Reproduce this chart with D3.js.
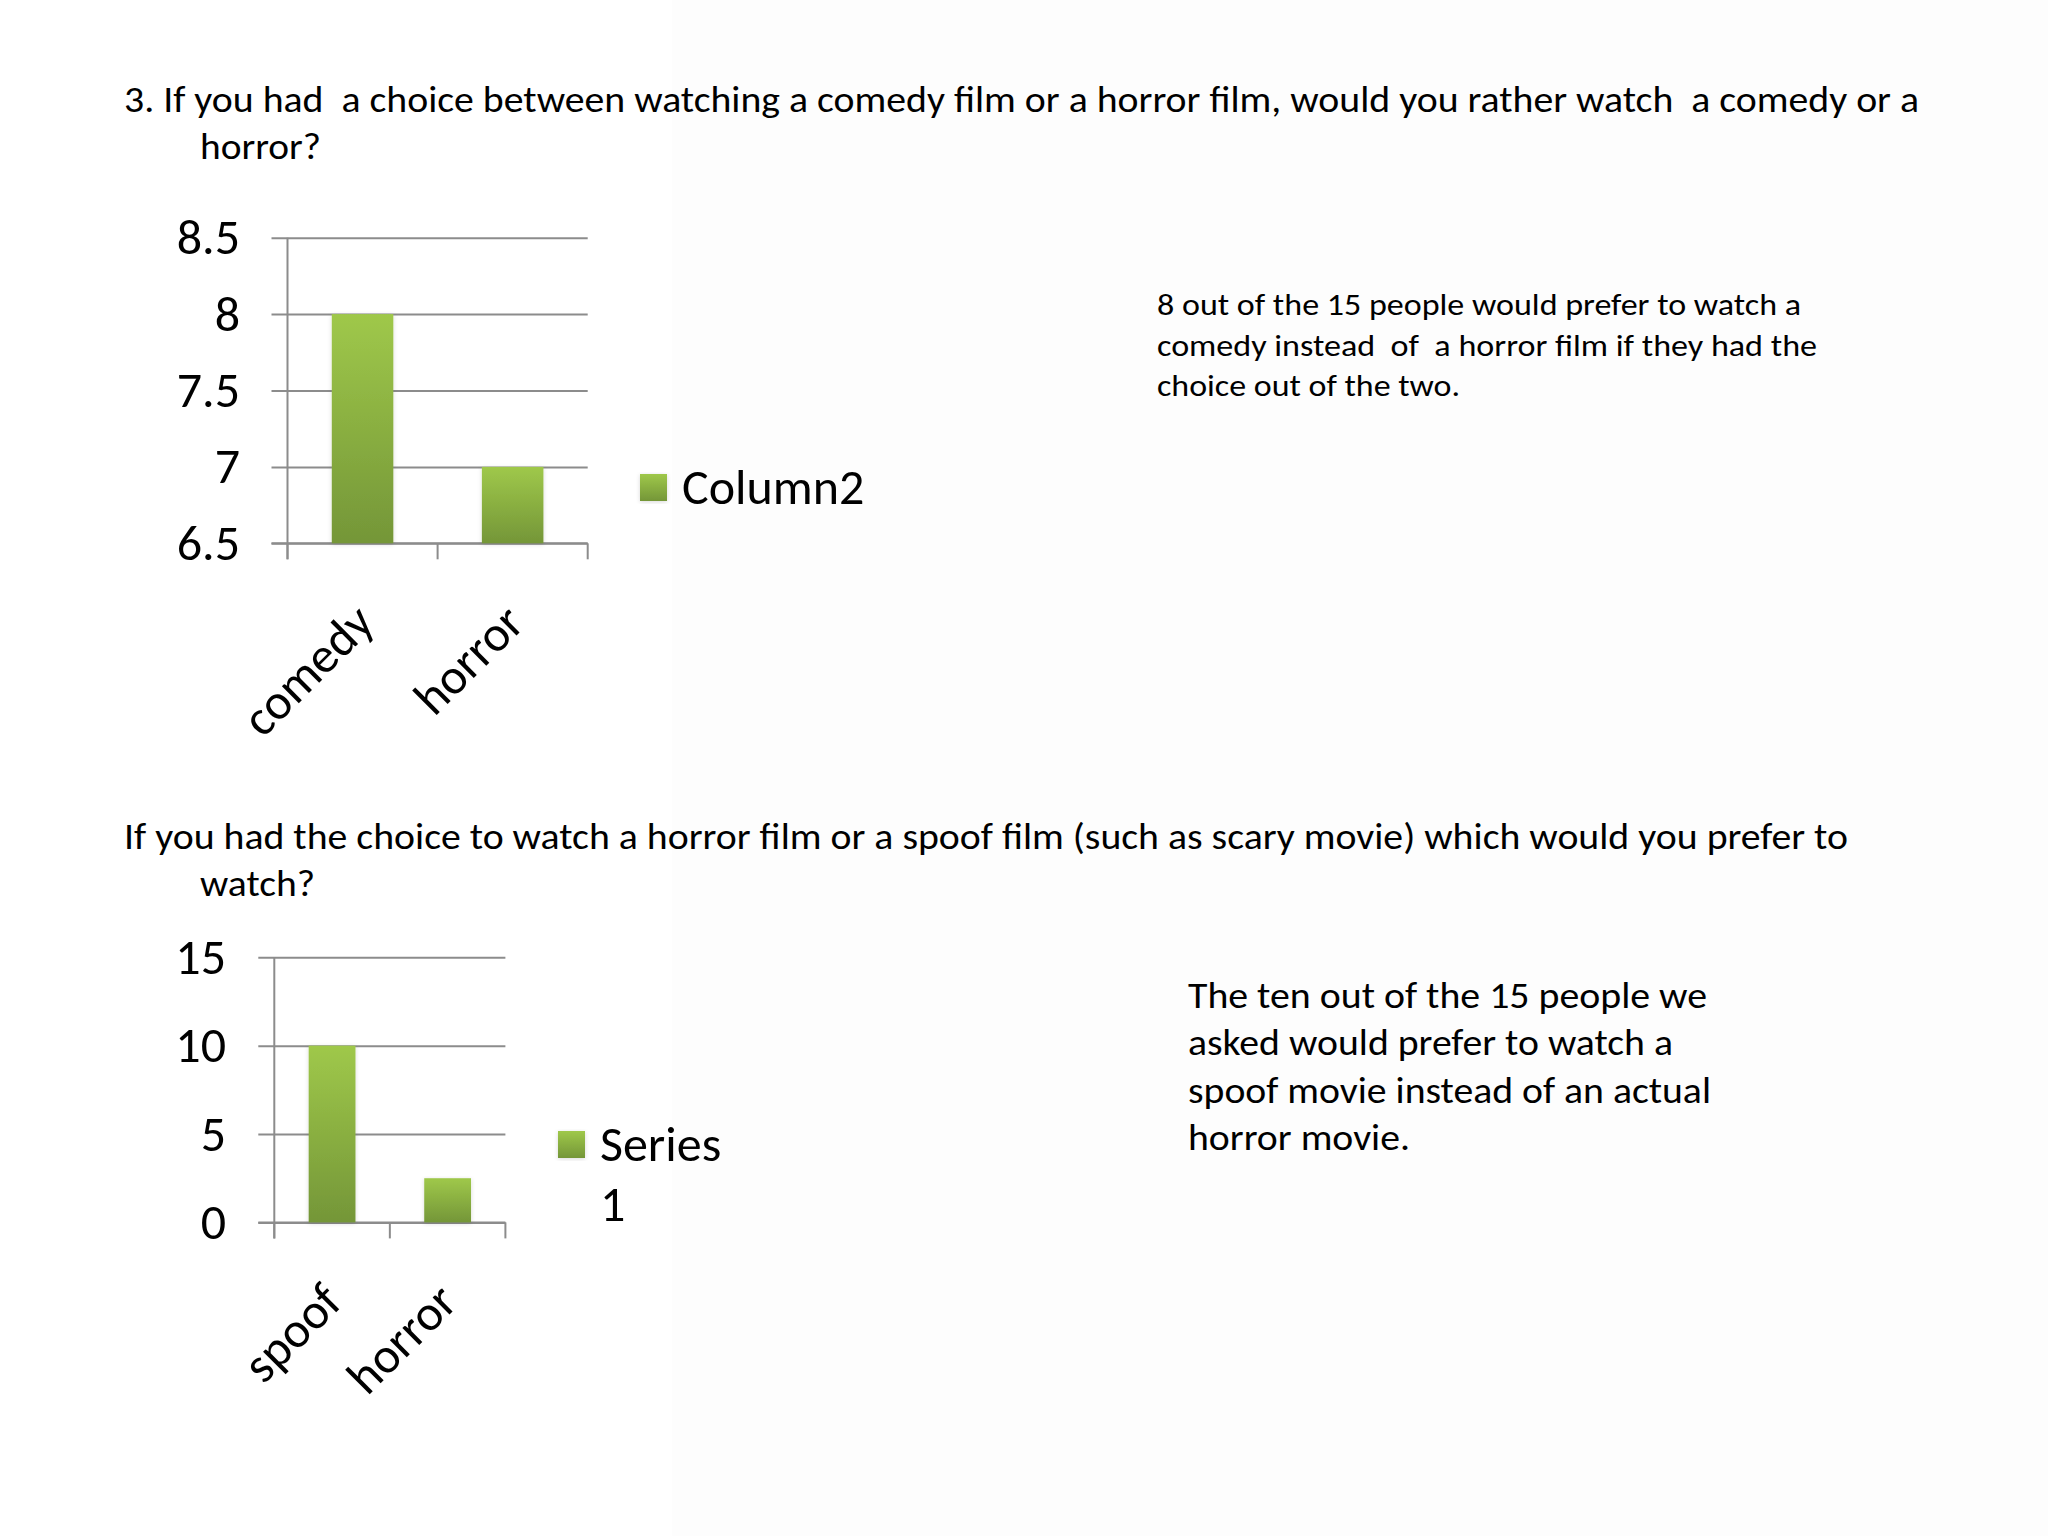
<!DOCTYPE html>
<html>
<head>
<meta charset="utf-8">
<script src="https://cdn.jsdelivr.net/npm/d3@7"></script>
<style>
html,body{margin:0;padding:0;background:#fff;}
svg{display:block;}
text{font-family:Carlito, Calibri, Lato, "Open Sans", sans-serif;fill:#000;}
</style>
</head>
<body>
<script>
// ---- data ----
const chart1Categories = ["comedy", "horror"];
const chart1Values = [8, 7];
const chart1Ticks = [6.5, 7, 7.5, 8, 8.5];
const chart1Series = "Column2";

const chart2Categories = ["spoof", "horror"];
const chart2Values = [10, 2.5];
const chart2Ticks = [0, 5, 10, 15];
const chart2Series = ["Series", "1"];

const title1Lines = [
  "3. If you had  a choice between watching a comedy film or a horror film, would you rather watch  a comedy or a",
  "horror?"
];
const title2Lines = [
  "If you had the choice to watch a horror film or a spoof film (such as scary movie) which would you prefer to",
  "watch?"
];
const note1Lines = [
  "8 out of the 15 people would prefer to watch a",
  "comedy instead  of  a horror film if they had the",
  "choice out of the two."
];
const note2Lines = [
  "The ten out of the 15 people we",
  "asked would prefer to watch a",
  "spoof movie instead of an actual",
  "horror movie."
];

const W = 2048, H = 1536;
const svg = d3.select("body").append("svg").attr("width", W).attr("height", H);

// faint background on right part
svg.append("rect").attr("x", 0).attr("y", 0).attr("width", W).attr("height", H).attr("fill", "#ffffff");
svg.append("rect").attr("x", 672).attr("y", 0).attr("width", W - 672).attr("height", H).attr("fill", "#fdfdfd");

const defs = svg.append("defs");
const grad = defs.append("linearGradient").attr("id", "barGrad").attr("x1", 0).attr("y1", 0).attr("x2", 0).attr("y2", 1);
grad.append("stop").attr("offset", "0%").attr("stop-color", "#9fc84a");
grad.append("stop").attr("offset", "100%").attr("stop-color", "#749638");
const filt = defs.append("filter").attr("id", "shadow").attr("x", "-20%").attr("y", "-5%").attr("width", "140%").attr("height", "115%");
filt.append("feDropShadow").attr("dx", 0).attr("dy", 1).attr("stdDeviation", 2).attr("flood-color", "#000").attr("flood-opacity", 0.15);

// ---- text blocks ----
function textBlock(lines, opts) {
  lines.forEach((t, i) => {
    const el = svg.append("text")
      .attr("x", i === 0 ? opts.x : (opts.x2 !== undefined ? opts.x2 : opts.x))
      .attr("y", opts.y + i * opts.lh)
      .attr("font-size", opts.fs)
      .style("white-space", "pre")
      .attr("xml:space", "preserve")
      .text(t);
    if (opts.widths && opts.widths[i]) {
      el.attr("textLength", opts.widths[i]).attr("lengthAdjust", "spacingAndGlyphs");
    }
  });
}

textBlock(title1Lines, {x: 124, x2: 200, y: 112, lh: 47, fs: 36, widths: [1795, 121]});
textBlock(title2Lines, {x: 124, x2: 200, y: 849, lh: 47, fs: 36, widths: [1724, 115]});
textBlock(note1Lines, {x: 1157, y: 315, lh: 40.5, fs: 31, widths: [644, 660, 303]});
textBlock(note2Lines, {x: 1188, y: 1008, lh: 47.4, fs: 37, widths: [519, 485, 523, 222]});

// ---- chart drawer ----
function drawChart(cfg) {
  const g = svg.append("g");
  const x = d3.scaleBand().domain(cfg.categories).range([cfg.left, cfg.right]).paddingInner(0).paddingOuter(0);
  const y = d3.scaleLinear().domain(cfg.domain).range([cfg.bottom, cfg.top]);

  // gridlines + y ticks
  const yAxis = d3.axisLeft(y).tickValues(cfg.ticks).tickSize(-(cfg.right - cfg.left)).tickPadding(0).tickFormat(d3.format(""));
  const ya = g.append("g").attr("transform", `translate(${cfg.left},0)`).call(yAxis);
  ya.select(".domain").remove();
  ya.selectAll(".tick line").attr("stroke", "#8c8c8c").attr("stroke-width", 2).attr("x1", -16);
  ya.selectAll(".tick text").remove();
  cfg.ticks.forEach(t => {
    g.append("text").attr("x", cfg.labelRight).attr("y", y(t)).attr("dy", "0.33em")
      .attr("text-anchor", "end").attr("font-size", 50).text(d3.format("")(t));
  });

  // y axis line
  g.append("line").attr("x1", cfg.left).attr("x2", cfg.left).attr("y1", cfg.top).attr("y2", cfg.bottom + 16)
    .attr("stroke", "#8c8c8c").attr("stroke-width", 2);

  // x axis ticks
  const xTicks = cfg.categories.map(c => x(c)).concat([cfg.right]);
  xTicks.forEach(px => {
    g.append("line").attr("x1", px).attr("x2", px).attr("y1", cfg.bottom).attr("y2", cfg.bottom + 16)
      .attr("stroke", "#8c8c8c").attr("stroke-width", 2);
  });
  g.append("line").attr("x1", cfg.left - 16).attr("x2", cfg.right).attr("y1", cfg.bottom).attr("y2", cfg.bottom)
    .attr("stroke", "#8c8c8c").attr("stroke-width", 2);

  // bars
  const bw = x.bandwidth() * cfg.barFrac;
  g.selectAll("rect.bar").data(cfg.values).enter().append("rect")
    .attr("class", "bar")
    .attr("x", (d, i) => x(cfg.categories[i]) + (x.bandwidth() - bw) / 2)
    .attr("width", bw)
    .attr("y", d => y(d))
    .attr("height", d => y(cfg.domain[0]) - y(d))
    .attr("fill", "url(#barGrad)")
    .attr("filter", "url(#shadow)");

  // x labels rotated
  cfg.categories.forEach(c => {
    const cx = x(c) + x.bandwidth() / 2 + cfg.labelDx;
    const cy = cfg.bottom + 82;
    g.append("text").attr("transform", `translate(${cx},${cy}) rotate(-45)`)
      .attr("text-anchor", "end").attr("font-size", 50).text(c);
  });

  // legend
  g.append("rect").attr("x", cfg.legX).attr("y", cfg.legY).attr("width", 27).attr("height", 27)
    .attr("fill", "url(#barGrad)").attr("filter", "url(#shadow)");
  cfg.legendLines.forEach((t, i) => {
    g.append("text").attr("x", cfg.legX + 42).attr("y", cfg.legY + 13.5 + i * 60).attr("dy", "0.33em")
      .attr("font-size", 50).text(t);
  });
}

drawChart({
  categories: chart1Categories, values: chart1Values, ticks: chart1Ticks,
  domain: [6.5, 8.5], left: 287.5, right: 587.7, top: 237.7, bottom: 543.3,
  labelRight: 240, barFrac: 0.41, labelDx: 14,
  legX: 640, legY: 474, legendLines: [chart1Series]
});

drawChart({
  categories: chart2Categories, values: chart2Values, ticks: chart2Ticks,
  domain: [0, 15], left: 274.3, right: 505.4, top: 957.3, bottom: 1222.4,
  labelRight: 226, barFrac: 0.405, labelDx: 12,
  legX: 558, legY: 1131, legendLines: chart2Series
});
</script>
</body>
</html>
